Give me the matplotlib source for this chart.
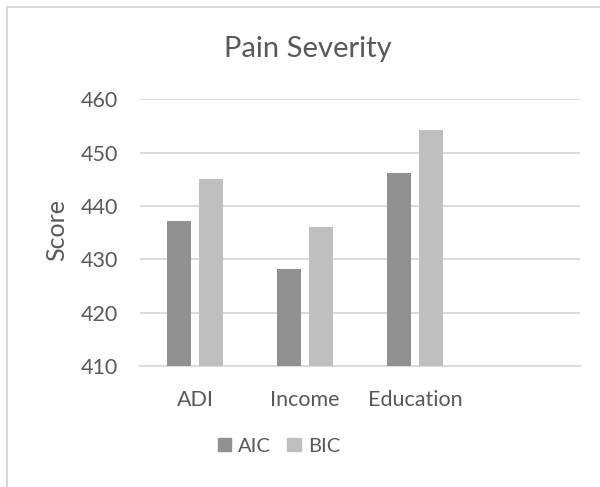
import numpy as np
import matplotlib
matplotlib.use("Agg")
import matplotlib.pyplot as plt
from matplotlib.lines import Line2D
from matplotlib.patches import Patch

# chart data
categories = ["ADI", "Income", "Education", ""]
series_names = ["AIC", "BIC"]
aic_values = [437.2, 428.2, 446.2]
bic_values = [445.1, 436.1, 454.3]
y_ticks = [410, 420, 430, 440, 450, 460]

AIC_COLOR = "#919191"
BIC_COLOR = "#bfbfbf"
GRID_COLOR = "#d9d9d9"
TEXT_COLOR = "#595959"

plt.rcParams['font.family'] = ['Lato', 'DejaVu Sans']

fig = plt.figure(figsize=(6.0, 4.87), dpi=100)
W, H = 600.0, 487.0
ax = fig.add_axes([140 / W, 1 - 366 / H, 440 / W, (366 - 99.3) / H])

x = np.arange(len(aic_values))
bar_w = 0.221
offset = 0.143
ax.bar(x - offset, aic_values, width=bar_w, color=AIC_COLOR, zorder=3)
ax.bar(x + offset, bic_values, width=bar_w, color=BIC_COLOR, zorder=3)

ax.set_xlim(-0.5, len(categories) - 0.5)
ax.set_ylim(y_ticks[0], y_ticks[-1])
ax.set_yticks(y_ticks)
ax.set_xticks(np.arange(len(categories)))
ax.set_xticklabels(categories)
ax.yaxis.grid(True, color=GRID_COLOR, linewidth=1.3, zorder=0)
ax.set_axisbelow(True)
for side in ["top", "right", "left"]:
    ax.spines[side].set_visible(False)
ax.spines["bottom"].set_color(GRID_COLOR)
ax.spines["bottom"].set_linewidth(1.3)
ax.tick_params(axis="both", length=0, labelsize=15.5, colors=TEXT_COLOR)
ax.tick_params(axis="y", pad=16)
ax.tick_params(axis="x", pad=17)

ax.set_ylabel("Score", fontsize=18, color=TEXT_COLOR)
ax.yaxis.set_label_coords((57 - 140) / 440, (366 - 230) / (366 - 99.3))
ax.yaxis.label.set_va("center")

fig.text(308 / W, 1 - 57 / H, "Pain Severity", ha="center", va="baseline",
         fontsize=21, color=TEXT_COLOR)

handles = [Patch(color=AIC_COLOR), Patch(color=BIC_COLOR)]
fig.legend(handles, series_names, loc="center", bbox_to_anchor=(279 / W, 1 - 446 / H),
           ncol=2, frameon=False, fontsize=14.5, labelcolor=TEXT_COLOR,
           handlelength=0.68, handleheight=0.68, handletextpad=0.35, columnspacing=0.8)

# chart area border
fig.add_artist(Line2D([6.5 / W, 6.5 / W], [0, 1 - 7 / H], color=GRID_COLOR, linewidth=1.5))
fig.add_artist(Line2D([6.5 / W, 1], [1 - 7 / H, 1 - 7 / H], color=GRID_COLOR, linewidth=1.5))

fig.savefig("out.png", dpi=100)
